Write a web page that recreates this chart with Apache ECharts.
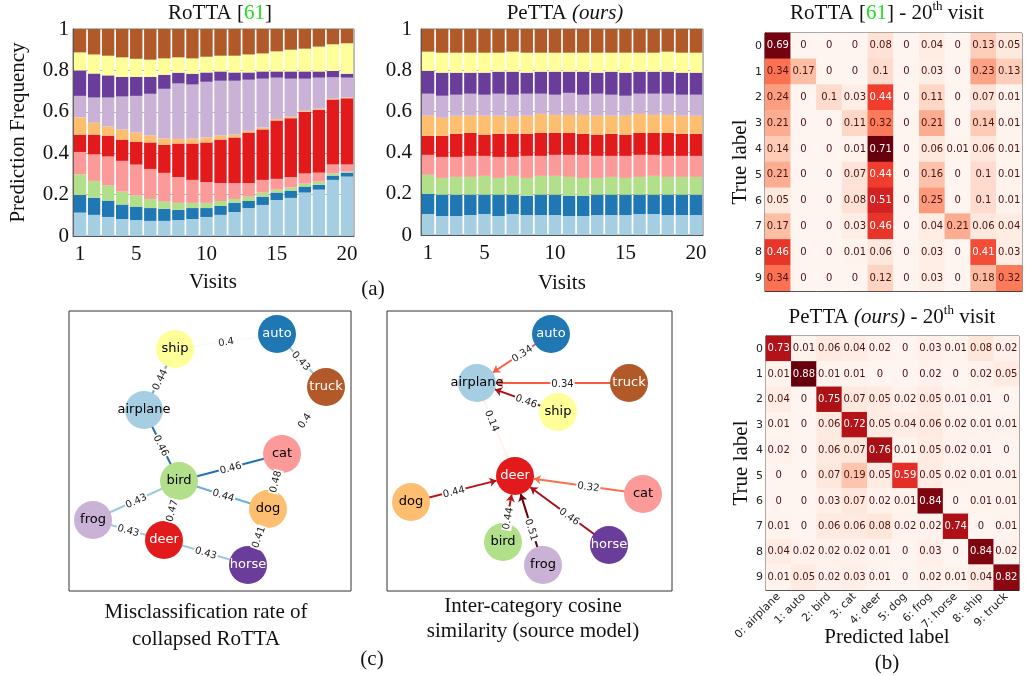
<!DOCTYPE html>
<html>
<head>
<meta charset="utf-8">
<script src="https://cdn.jsdelivr.net/npm/echarts/dist/echarts.min.js"></script>
<style>
html, body { margin: 0; padding: 0; background: #fff; }
#main { width: 1025px; height: 676px; }
</style>
</head>
<body>
<div id="main"></div>
<script>
// classes and colours (matplotlib "Paired" without the dark orange)
var classNames = ['airplane', 'auto', 'bird', 'cat', 'deer', 'dog', 'frog', 'horse', 'ship', 'truck'];
var classColors = ['#a6cee3', '#1f78b4', '#b2df8a', '#fb9a99', '#e31a1c', '#fdbf6f', '#cab2d6', '#6a3d9a', '#ffff99', '#b15928'];
var visits = ['1', '2', '3', '4', '5', '6', '7', '8', '9', '10', '11', '12', '13', '14', '15', '16', '17', '18', '19', '20'];

// (a) RoTTA prediction frequency per visit
var rAirplane = [0.113, 0.102, 0.092, 0.082, 0.077, 0.073, 0.073, 0.077, 0.082, 0.092, 0.102, 0.116, 0.135, 0.150, 0.174, 0.184, 0.210, 0.224, 0.271, 0.287];
var rAuto = [0.085, 0.083, 0.079, 0.070, 0.065, 0.062, 0.058, 0.049, 0.053, 0.043, 0.043, 0.045, 0.034, 0.040, 0.036, 0.035, 0.029, 0.023, 0.021, 0.019];
var rBird = [0.099, 0.081, 0.073, 0.063, 0.053, 0.044, 0.035, 0.034, 0.025, 0.025, 0.024, 0.018, 0.021, 0.020, 0.014, 0.015, 0.014, 0.016, 0.010, 0.005];
var rCat = [0.109, 0.128, 0.140, 0.148, 0.150, 0.145, 0.139, 0.125, 0.111, 0.101, 0.087, 0.077, 0.066, 0.061, 0.052, 0.051, 0.049, 0.043, 0.043, 0.034];
var rDeer = [0.084, 0.096, 0.101, 0.103, 0.111, 0.128, 0.135, 0.162, 0.176, 0.191, 0.210, 0.220, 0.244, 0.244, 0.282, 0.284, 0.298, 0.304, 0.315, 0.320];
var rDog = [0.083, 0.057, 0.044, 0.049, 0.044, 0.033, 0.031, 0.022, 0.024, 0.024, 0.019, 0.014, 0.008, 0.009, 0.007, 0.007, 0.005, 0.005, 0.003, 0.004];
var rFrog = [0.104, 0.122, 0.140, 0.159, 0.177, 0.202, 0.240, 0.268, 0.261, 0.269, 0.265, 0.260, 0.247, 0.236, 0.200, 0.184, 0.155, 0.150, 0.104, 0.096];
var rHorse = [0.123, 0.116, 0.107, 0.095, 0.092, 0.082, 0.068, 0.052, 0.052, 0.045, 0.045, 0.040, 0.035, 0.035, 0.030, 0.035, 0.035, 0.030, 0.030, 0.019];
var rShip = [0.087, 0.092, 0.095, 0.094, 0.087, 0.083, 0.079, 0.074, 0.074, 0.076, 0.076, 0.081, 0.087, 0.087, 0.097, 0.105, 0.110, 0.120, 0.129, 0.147];
var rTruck = [0.113, 0.123, 0.129, 0.137, 0.144, 0.148, 0.142, 0.137, 0.142, 0.134, 0.129, 0.129, 0.123, 0.118, 0.108, 0.100, 0.095, 0.085, 0.076, 0.069];

// (a) PeTTA prediction frequency per visit
var pAirplane = [0.102, 0.092, 0.092, 0.097, 0.102, 0.092, 0.102, 0.097, 0.097, 0.097, 0.092, 0.092, 0.097, 0.097, 0.097, 0.102, 0.102, 0.097, 0.097, 0.097];
var pAuto = [0.099, 0.104, 0.104, 0.099, 0.094, 0.104, 0.094, 0.094, 0.099, 0.099, 0.099, 0.099, 0.099, 0.099, 0.099, 0.094, 0.094, 0.099, 0.099, 0.099];
var pBird = [0.091, 0.081, 0.086, 0.086, 0.091, 0.081, 0.091, 0.086, 0.091, 0.091, 0.091, 0.086, 0.081, 0.086, 0.081, 0.086, 0.091, 0.086, 0.086, 0.086];
var pCat = [0.097, 0.102, 0.097, 0.102, 0.097, 0.102, 0.092, 0.107, 0.097, 0.102, 0.107, 0.112, 0.107, 0.102, 0.107, 0.107, 0.102, 0.102, 0.102, 0.102];
var pDeer = [0.092, 0.102, 0.112, 0.112, 0.102, 0.112, 0.112, 0.107, 0.112, 0.107, 0.107, 0.102, 0.102, 0.107, 0.102, 0.107, 0.107, 0.112, 0.107, 0.107];
var pDog = [0.098, 0.088, 0.088, 0.083, 0.093, 0.088, 0.083, 0.088, 0.092, 0.087, 0.087, 0.092, 0.093, 0.088, 0.093, 0.092, 0.087, 0.087, 0.088, 0.088];
var pFrog = [0.107, 0.107, 0.102, 0.107, 0.102, 0.107, 0.107, 0.107, 0.098, 0.098, 0.107, 0.098, 0.107, 0.102, 0.097, 0.098, 0.103, 0.103, 0.102, 0.102];
var pHorse = [0.111, 0.112, 0.107, 0.102, 0.107, 0.107, 0.112, 0.102, 0.107, 0.112, 0.103, 0.112, 0.102, 0.112, 0.112, 0.107, 0.107, 0.107, 0.107, 0.107];
var pShip = [0.093, 0.097, 0.097, 0.097, 0.097, 0.092, 0.097, 0.097, 0.092, 0.092, 0.092, 0.092, 0.097, 0.092, 0.097, 0.092, 0.092, 0.097, 0.097, 0.097];
var pTruck = [0.110, 0.115, 0.115, 0.115, 0.115, 0.115, 0.110, 0.115, 0.115, 0.115, 0.115, 0.115, 0.115, 0.115, 0.115, 0.115, 0.115, 0.110, 0.115, 0.115];

// (b) confusion matrices at the 20th visit (rows = true label)
var rowLabels = ['0', '1', '2', '3', '4', '5', '6', '7', '8', '9'];
var predLabels = ['0: airplane', '1: auto', '2: bird', '3: cat', '4: deer', '5: dog', '6: frog', '7: horse', '8: ship', '9: truck'];
var rottaCm = [
    [0.69, 0, 0, 0, 0.08, 0, 0.04, 0, 0.13, 0.05],
    [0.34, 0.17, 0, 0, 0.1, 0, 0.03, 0, 0.23, 0.13],
    [0.24, 0, 0.1, 0.03, 0.44, 0, 0.11, 0, 0.07, 0.01],
    [0.21, 0, 0, 0.11, 0.32, 0, 0.21, 0, 0.14, 0.01],
    [0.14, 0, 0, 0.01, 0.71, 0, 0.06, 0.01, 0.06, 0.01],
    [0.21, 0, 0, 0.07, 0.44, 0, 0.16, 0, 0.1, 0.01],
    [0.05, 0, 0, 0.08, 0.51, 0, 0.25, 0, 0.1, 0.01],
    [0.17, 0, 0, 0.03, 0.46, 0, 0.04, 0.21, 0.06, 0.04],
    [0.46, 0, 0, 0.01, 0.06, 0, 0.03, 0, 0.41, 0.03],
    [0.34, 0, 0, 0, 0.12, 0, 0.03, 0, 0.18, 0.32]
];
var pettaCm = [
    [0.73, 0.01, 0.06, 0.04, 0.02, 0, 0.03, 0.01, 0.08, 0.02],
    [0.01, 0.88, 0.01, 0.01, 0, 0, 0.02, 0, 0.02, 0.05],
    [0.04, 0, 0.75, 0.07, 0.05, 0.02, 0.05, 0.01, 0.01, 0],
    [0.01, 0, 0.06, 0.72, 0.05, 0.04, 0.06, 0.02, 0.01, 0.01],
    [0.02, 0, 0.06, 0.07, 0.76, 0.01, 0.05, 0.02, 0.01, 0],
    [0, 0, 0.07, 0.19, 0.05, 0.59, 0.05, 0.02, 0.01, 0.01],
    [0, 0, 0.03, 0.07, 0.02, 0.01, 0.84, 0, 0.01, 0.01],
    [0.01, 0, 0.06, 0.06, 0.08, 0.02, 0.02, 0.74, 0, 0.01],
    [0.04, 0.02, 0.02, 0.02, 0.01, 0, 0.03, 0, 0.84, 0.02],
    [0.01, 0.05, 0.02, 0.03, 0.01, 0, 0.02, 0.01, 0.04, 0.82]
];

// (c) misclassification graph of collapsed RoTTA (layout units inside the box)
var misNodeX = [75, 208, 110, 213, 95, 199, 24, 179, 106, 257];
var misNodeY = [99, 23, 170, 143, 229, 198, 209, 254, 38, 76];
var misSource = ['ship', 'auto', 'ship', 'truck', 'airplane', 'bird', 'cat', 'bird', 'bird', 'bird', 'frog', 'deer', 'dog'];
var misTarget = ['auto', 'truck', 'airplane', 'cat', 'bird', 'cat', 'dog', 'dog', 'frog', 'deer', 'deer', 'horse', 'horse'];
var misRate = [0.4, 0.43, 0.44, 0.4, 0.46, 0.46, 0.48, 0.44, 0.43, 0.47, 0.43, 0.43, 0.41];

// (c) inter-category cosine similarity of the source model
var simNodeX = [90, 164, 116, 256, 128, 24, 156, 222, 171, 242];
var simNodeY = [72, 23, 231, 183, 165, 191, 254, 234, 101, 72];
var simSource = ['auto', 'truck', 'ship', 'airplane', 'dog', 'cat', 'bird', 'frog', 'horse'];
var simTarget = ['airplane', 'airplane', 'airplane', 'deer', 'deer', 'deer', 'deer', 'deer', 'deer'];
var simValue = [0.34, 0.34, 0.46, 0.14, 0.44, 0.32, 0.44, 0.51, 0.46];

var redsMap = ['#fff5f0', '#fee0d2', '#fcbba1', '#fc9272', '#fb6a4a', '#ef3b2c', '#cb181d', '#a50f15', '#67000d'];
var bluesMap = ['#f7fbff', '#deebf7', '#c6dbef', '#9ecae1', '#6baed6', '#4292c6', '#2171b5', '#08519c', '#08306b'];
var whiteLabel = ['auto', 'deer', 'horse', 'truck'];

var serif = 'Liberation Serif';
var sans = 'DejaVu Sans';

function cmap(stops, t) {
    t = Math.max(0, Math.min(1, t));
    var p = t * (stops.length - 1);
    var i = Math.min(Math.floor(p), stops.length - 2);
    var f = p - i;
    var a = stops[i], b = stops[i + 1];
    var out = '#';
    for (var k = 1; k < 7; k += 2) {
        var va = parseInt(a.substr(k, 2), 16), vb = parseInt(b.substr(k, 2), 16);
        var v = Math.round(va + (vb - va) * f);
        out += (v < 16 ? '0' : '') + v.toString(16);
    }
    return out;
}

var myChart = echarts.init(document.getElementById('main'));

var series = [];
[[rAirplane, rAuto, rBird, rCat, rDeer, rDog, rFrog, rHorse, rShip, rTruck],
 [pAirplane, pAuto, pBird, pCat, pDeer, pDog, pFrog, pHorse, pShip, pTruck]].forEach(function (group, g) {
    group.forEach(function (vals, k) {
        series.push({
            type: 'bar',
            name: classNames[k],
            stack: 'freq' + g,
            xAxisIndex: g,
            yAxisIndex: g,
            data: vals,
            barCategoryGap: '12%',
            itemStyle: { color: classColors[k] },
            silent: true
        });
    });
});

function cmData(m) {
    var mx = 0;
    m.forEach(function (row) { row.forEach(function (v) { mx = Math.max(mx, v); }); });
    var out = [];
    for (var r = 0; r < m.length; r++) {
        for (var c = 0; c < m[r].length; c++) {
            out.push({
                value: [c, r, m[r][c]],
                label: { color: m[r][c] > mx / 2 ? '#ffffff' : '#4a1212' }
            });
        }
    }
    return out;
}

[rottaCm, pettaCm].forEach(function (m, i) {
    series.push({
        type: 'heatmap',
        xAxisIndex: 2 + i,
        yAxisIndex: 2 + i,
        data: cmData(m),
        label: {
            show: true,
            fontFamily: sans,
            fontSize: 10,
            formatter: function (p) { return String(p.value[2]); }
        },
        silent: true
    });
});

function graphSeries(idx, xs, ys, src, dst, vals, stops, vmin, vmax, arrows) {
    var nodes = classNames.map(function (n, k) {
        return {
            name: n,
            value: [xs[k], ys[k]],
            itemStyle: { color: classColors[k] },
            label: { color: whiteLabel.indexOf(n) >= 0 ? '#ffffff' : '#000000' }
        };
    });
    var links = src.map(function (s, k) {
        return {
            source: s,
            target: dst[k],
            value: vals[k],
            lineStyle: { color: cmap(stops, (vals[k] - vmin) / (vmax - vmin)) }
        };
    });
    return {
        type: 'graph',
        layout: 'none',
        coordinateSystem: 'cartesian2d',
        xAxisIndex: idx,
        yAxisIndex: idx,
        symbolSize: 38,
        data: nodes,
        links: links,
        edgeSymbol: arrows ? ['none', 'arrow'] : ['none', 'none'],
        edgeSymbolSize: [0, 7],
        lineStyle: { width: 2, opacity: 1, curveness: 0 },
        label: { show: true, position: 'inside', fontFamily: sans, fontSize: 13 },
        edgeLabel: {
            show: true,
            position: 'middle',
            distance: -6,
            fontFamily: sans,
            fontSize: 10,
            color: '#222',
            backgroundColor: '#ffffff',
            padding: [0, 1],
            formatter: function (p) { return String(p.data.value); }
        },
        silent: true
    };
}
series.push(graphSeries(4, misNodeX, misNodeY, misSource, misTarget, misRate, bluesMap, 0.40, 0.48, false));
series.push(graphSeries(5, simNodeX, simNodeY, simSource, simTarget, simValue, redsMap, 0.14, 0.51, true));

function barX(g) {
    return {
        gridIndex: g,
        type: 'category',
        data: visits,
        axisTick: { show: false },
        axisLine: { lineStyle: { color: '#555' } },
        axisLabel: {
            fontFamily: serif, fontSize: 21, color: '#111', margin: 8,
            interval: function (i) { return i === 0 || (i + 1) % 5 === 0; }
        }
    };
}
function barY(g, withName) {
    var ax = {
        gridIndex: g,
        type: 'value',
        min: 0,
        max: 1,
        interval: 0.2,
        axisLine: { show: true, lineStyle: { color: '#555' } },
        axisTick: { show: false },
        axisLabel: { fontFamily: serif, fontSize: 21, color: '#111', margin: g === 0 ? 4 : 9 },
        splitLine: { show: true, lineStyle: { color: '#b8b8b8', width: 1, type: 'solid' } }
    };
    if (withName) {
        ax.name = 'Prediction Frequency';
        ax.nameLocation = 'middle';
        ax.nameGap = 44;
        ax.nameTextStyle = { fontFamily: serif, fontSize: 21, color: '#111' };
    }
    return ax;
}
function cmY(g) {
    return {
        gridIndex: g,
        type: 'category',
        data: rowLabels,
        inverse: true,
        name: 'True label',
        nameLocation: 'middle',
        nameGap: 14,
        nameTextStyle: { fontFamily: serif, fontSize: 21, color: '#111' },
        axisLine: { lineStyle: { color: '#222' } },
        axisTick: { length: 3, lineStyle: { color: '#222' } },
        axisLabel: { fontFamily: sans, fontSize: 11, color: '#222', margin: 3 },
        splitLine: { show: false }
    };
}

var option = {
    animation: false,
    backgroundColor: '#ffffff',
    grid: [
        { left: 73, top: 29, width: 281, height: 207, show: true, borderColor: '#777', outerBoundsMode: 'none' },
        { left: 421, top: 29, width: 282, height: 206, show: true, borderColor: '#777', outerBoundsMode: 'none' },
        { left: 765, top: 33, width: 257, height: 258, show: true, borderColor: '#222', outerBoundsMode: 'none' },
        { left: 766, top: 336, width: 253, height: 254, show: true, borderColor: '#222', outerBoundsMode: 'none' },
        { left: 69, top: 311, width: 282, height: 280, show: true, borderColor: '#333', outerBoundsMode: 'none' },
        { left: 387, top: 311, width: 285, height: 280, show: true, borderColor: '#333', outerBoundsMode: 'none' }
    ],
    xAxis: [
        barX(0),
        barX(1),
        {
            gridIndex: 2, type: 'category', data: predLabels,
            axisLine: { lineStyle: { color: '#222' } },
            axisTick: { length: 3, lineStyle: { color: '#222' } },
            axisLabel: { show: false }
        },
        {
            gridIndex: 3, type: 'category', data: predLabels,
            axisLine: { lineStyle: { color: '#222' } },
            axisTick: { length: 3, lineStyle: { color: '#222' } },
            axisLabel: { fontFamily: sans, fontSize: 11, color: '#222', rotate: 45, interval: 0, margin: 5 }
        },
        { gridIndex: 4, type: 'value', min: 0, max: 282, show: false },
        { gridIndex: 5, type: 'value', min: 0, max: 285, show: false }
    ],
    yAxis: [
        barY(0, true),
        barY(1, false),
        cmY(2),
        cmY(3),
        { gridIndex: 4, type: 'value', min: 0, max: 280, inverse: true, show: false },
        { gridIndex: 5, type: 'value', min: 0, max: 280, inverse: true, show: false }
    ],
    visualMap: [
        { type: 'continuous', show: false, seriesIndex: 20, dimension: 2, min: 0, max: 0.71, inRange: { color: redsMap } },
        { type: 'continuous', show: false, seriesIndex: 21, dimension: 2, min: 0, max: 0.88, inRange: { color: redsMap } }
    ],
    series: series
};

function txt(x, y, text, size, rich) {
    var el = {
        type: 'text',
        x: x,
        y: y,
        silent: true,
        style: {
            text: text,
            fontFamily: serif,
            fontSize: size,
            fill: '#111',
            textAlign: 'center',
            textVerticalAlign: 'middle',
            align: 'center',
            verticalAlign: 'middle'
        }
    };
    if (rich) el.style.rich = rich;
    return el;
}
var titleRich = {
    a: { fontFamily: serif, fontSize: 21, fill: '#111', color: '#111', lineHeight: 26 },
    g: { fontFamily: serif, fontSize: 21, fill: '#22dd22', color: '#22dd22', lineHeight: 26 },
    i: { fontFamily: serif, fontSize: 21, fontStyle: 'italic', fill: '#111', color: '#111', lineHeight: 26 },
    s: { fontFamily: serif, fontSize: 13, fill: '#111', color: '#111', verticalAlign: 'top', lineHeight: 26 }
};

option.graphic = [
    txt(220, 13, '{a|RoTTA [}{g|61}{a|]}', 21, titleRich),
    txt(565, 13, '{a|PeTTA }{i|(ours)}', 21, titleRich),
    txt(213, 282, 'Visits', 21),
    txt(562, 283, 'Visits', 21),
    txt(373, 289, '(a)', 21),
    txt(887, 13, '{a|RoTTA [}{g|61}{a|] - 20}{s|th}{a| visit}', 21, titleRich),
    txt(892, 317, '{a|PeTTA }{i|(ours)}{a| - 20}{s|th}{a| visit}', 21, titleRich),
    txt(887, 637, 'Predicted label', 21),
    txt(887, 663, '(b)', 21),
    txt(206, 612, 'Misclassification rate of', 21),
    txt(206, 639, 'collapsed RoTTA', 21),
    txt(533, 606, 'Inter-category cosine', 21),
    txt(533, 631, 'similarity (source model)', 21),
    txt(372, 659, '(c)', 21)
];

myChart.setOption(option);
window.addEventListener('resize', function () {
    myChart.resize();
});
</script>
</body>
</html>
